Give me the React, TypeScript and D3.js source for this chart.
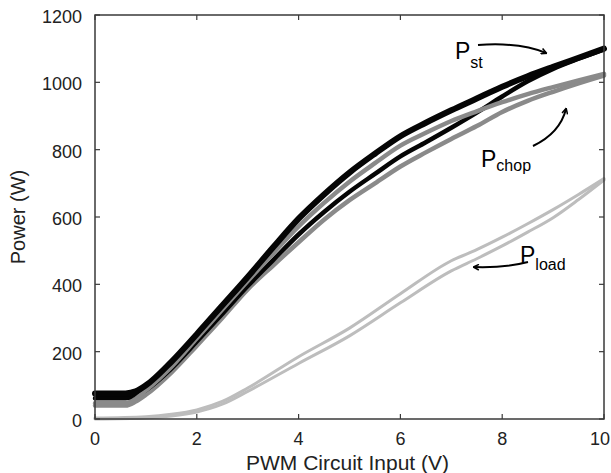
import React from "react";
import * as d3 from "d3";

const voltage = [0, 0.6, 0.8, 1, 1.5, 2, 2.5, 3, 3.5, 4, 4.5, 5, 5.5, 6, 6.5, 7, 7.5, 8, 8.5, 9, 9.5, 10];
const pStUp = [76, 76, 82, 100, 170, 252, 337, 422, 510, 595, 667, 732, 788, 840, 880, 917, 952, 987, 1018, 1046, 1073, 1100];
const pStDown = [62, 62, 68, 86, 150, 230, 312, 395, 472, 548, 615, 675, 728, 780, 822, 865, 910, 958, 1003, 1040, 1070, 1098];
const pChopUp = [47, 47, 60, 85, 155, 240, 325, 410, 492, 572, 642, 705, 760, 812, 850, 885, 914, 941, 965, 986, 1006, 1025];
const pChopDown = [40, 40, 52, 72, 138, 218, 300, 385, 456, 525, 592, 650, 700, 750, 792, 832, 870, 912, 945, 972, 997, 1020];

const loadVoltage = [0, 1, 1.5, 2, 2.5, 3, 4, 5, 6, 7, 7.5, 8, 8.5, 9, 9.5, 10];
const pLoadUp = [3, 7, 14, 27, 52, 92, 185, 270, 372, 470, 503, 540, 580, 622, 667, 714];
const pLoadDown = [0, 3, 9, 21, 44, 82, 165, 247, 345, 440, 476, 514, 555, 598, 652, 710];

const xTicks = [0, 2, 4, 6, 8, 10];
const yTicks = [0, 200, 400, 600, 800, 1000, 1200];

const W = 611;
const H = 473;
const L = 95;
const R = 604;
const T = 15;
const B = 419;

export default function App() {
  const x = d3.scaleLinear().domain([0, 10]).range([L, R]);
  const y = d3.scaleLinear().domain([0, 1200]).range([B, T]);
  const line = d3
    .line<[number, number]>()
    .x((d) => x(d[0]))
    .y((d) => y(d[1]))
    .curve(d3.curveMonotoneX);
  const mk = (vs: number[], ps: number[]) => line(vs.map((v, i) => [v, ps[i]] as [number, number])) || "";

  const axisColor = "#3a3a3a";
  const font = "Liberation Sans, Arial, sans-serif";

  return (
    <svg width={W} height={H} style={{ position: "absolute", left: 0, top: 0, background: "#fff" }} fontFamily={font}>
      <defs>
        <marker id="ah" viewBox="0 0 10 10" refX="8" refY="5" markerWidth="7" markerHeight="7" orient="auto" markerUnits="userSpaceOnUse">
          <path d="M1,1 L9,5 L1,9" fill="none" stroke="#000" strokeWidth={2.2} />
        </marker>
      </defs>
      {/* curves */}
      <g fill="none" strokeLinejoin="round" strokeLinecap="round">
        <path d={mk(loadVoltage, pLoadUp)} stroke="#bdbdbd" strokeWidth={3} />
        <path d={mk(loadVoltage, pLoadDown)} stroke="#bdbdbd" strokeWidth={3} />
        <path d={mk(voltage, pChopDown)} stroke="#8a8a8a" strokeWidth={4.5} />
        <path d={mk(voltage, pStDown)} stroke="#050505" strokeWidth={4.5} />
        <path d={mk(voltage, pChopUp)} stroke="#8a8a8a" strokeWidth={4.5} />
        <path d={mk(voltage, pStUp)} stroke="#050505" strokeWidth={6} />
      </g>
      {/* frame */}
      <rect x={L} y={T} width={R - L} height={B - T} fill="none" stroke={axisColor} strokeWidth={1.5} />
      {xTicks.map((t) => (
        <g key={"x" + t}>
          <line x1={x(t)} x2={x(t)} y1={B} y2={B - 5} stroke={axisColor} strokeWidth={1.2} />
          <line x1={x(t)} x2={x(t)} y1={T} y2={T + 5} stroke={axisColor} strokeWidth={1.2} />
          <text x={Math.min(x(t), W - 11)} y={445} fontSize={18} textAnchor="middle" fill="#222">
            {t}
          </text>
        </g>
      ))}
      {yTicks.map((t) => (
        <g key={"y" + t}>
          <line x1={L} x2={L + 5} y1={y(t)} y2={y(t)} stroke={axisColor} strokeWidth={1.2} />
          <line x1={R} x2={R - 5} y1={y(t)} y2={y(t)} stroke={axisColor} strokeWidth={1.2} />
          <text x={82} y={y(t) + 8} fontSize={18} textAnchor="end" fill="#222">
            {t}
          </text>
        </g>
      ))}
      <text x={(L + R) / 2 - 2} y={470} fontSize={21} textAnchor="middle" fill="#222">
        PWM Circuit Input (V)
      </text>
      <text transform={`translate(25,${(T + B) / 2}) rotate(-90)`} fontSize={20} textAnchor="middle" fill="#222">
        Power (W)
      </text>
      {/* annotations */}
      <text x={455} y={59} fontSize={23} fill="#000">
        P<tspan fontSize={16} dy={9}>st</tspan>
      </text>
      <path d="M478,45 Q520,42 546,53" fill="none" stroke="#000" strokeWidth={2} markerEnd="url(#ah)" />
      <text x={481} y={167} fontSize={23} fill="#000">
        P<tspan fontSize={16} dy={4}>chop</tspan>
      </text>
      <path d="M533,146 Q560,133 566,109" fill="none" stroke="#000" strokeWidth={2} markerEnd="url(#ah)" />
      <text x={520} y={263} fontSize={23} fill="#000">
        P<tspan fontSize={16} dy={7}>load</tspan>
      </text>
      <path d="M528,262 Q505,268 474,267" fill="none" stroke="#000" strokeWidth={2} markerEnd="url(#ah)" />
    </svg>
  );
}
